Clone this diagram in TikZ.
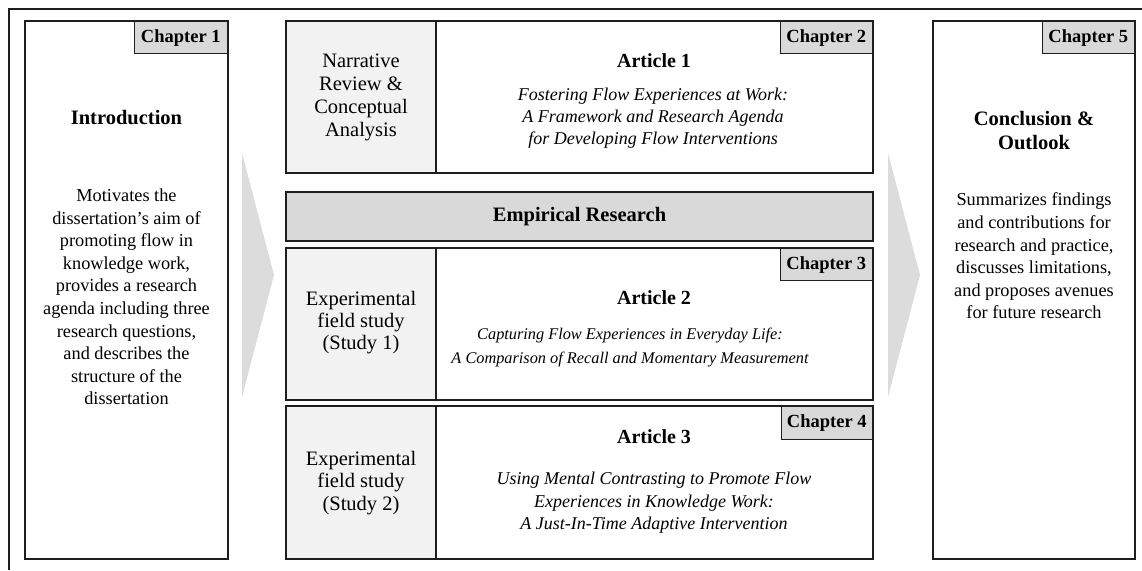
\documentclass[tikz,border=0pt]{standalone}
\usepackage{fontspec}
\setmainfont{Liberation Serif}
\definecolor{tabgray}{HTML}{D9D9D9}
\definecolor{sidegray}{HTML}{F2F2F2}
\definecolor{arrowgray}{HTML}{DCDCDC}
\definecolor{edge}{HTML}{1E1E1E}
\newcommand{\fsz}[2]{\fontsize{#1}{#2}\selectfont}
\begin{document}
\begin{tikzpicture}[x=1pt,y=-1pt,
  box/.style={draw=edge, line width=1.6pt, anchor=north west, inner sep=0pt, outer sep=0pt},
  sidebox/.style={box, fill=sidegray, minimum width=150pt},
  mainbox/.style={box, fill=white, minimum width=437pt},
  tab/.style={draw=edge, line width=1.4pt, fill=tabgray, anchor=north east, inner sep=0pt,
    minimum width=92pt, minimum height=32pt, font=\fsz{18.5}{20}\bfseries},
  heading/.style={inner sep=0pt, align=center, font=\fsz{20.5}{24}\bfseries},
  body/.style={inner sep=0pt, align=center, font=\fsz{18.3}{22.6}},
  side/.style={inner sep=0pt, align=center, font=\fsz{20.5}{23}},
  titles/.style={inner sep=0pt, align=center, font=\fsz{18}{22.3}\itshape},
  chevron/.style={fill=arrowgray, draw=none}
]
\useasboundingbox (0,0) rectangle (1142,570);
\fill[white] (0,0) rectangle (1142,570);

% frame
\draw[line width=2.2pt, edge] (9,570) -- (9,9) -- (1142,9);

% flow chevrons between the columns
\fill[chevron] (242,153) -- (274,275) -- (242,397) -- cycle;
\fill[chevron] (888,153) -- (920,275) -- (888,397) -- cycle;

% chapter 1
\node[box, minimum width=203pt, minimum height=538pt] (intro) at (25,21) {};
\node[tab, minimum width=93pt] (ch1) at (intro.north east) {Chapter 1};
\node[heading] (introT) at (126.5,118) {Introduction};
\node[body] (introB) at (126.5,297) {Motivates the\\dissertation’s aim of\\promoting flow in\\knowledge work,\\provides a research\\agenda including three\\research questions,\\and describes the\\structure of the\\dissertation};

% chapter 2 / article 1
\node[sidebox, minimum height=152pt] (a1side) at (286,21) {};
\node[mainbox, minimum height=152pt] (a1main) at (436,21) {};
\node[tab] (ch2) at (a1main.north east) {Chapter 2};
\node[side] (a1sideT) at (361,97) {Narrative\\Review \&\\Conceptual\\Analysis};
\node[heading, font=\fsz{20}{24}\bfseries] (a1T) at (654,61) {Article 1};
\node[titles] (a1B) at (653,118) {Fostering Flow Experiences at Work:\\A Framework and Research Agenda\\for Developing Flow Interventions};

% empirical research banner
\node[box, fill=tabgray, minimum width=587pt, minimum height=49pt] (emp) at (286,192) {};
\node[heading] (empT) at (579.5,217) {Empirical Research};

% chapter 3 / article 2
\node[sidebox, minimum height=152pt] (a2side) at (286,248) {};
\node[mainbox, minimum height=152pt] (a2main) at (436,248) {};
\node[tab] (ch3) at (a2main.north east) {Chapter 3};
\node[side, font=\fsz{20.5}{22}] (a2sideT) at (361,323) {Experimental\\field study\\(Study 1)};
\node[heading, font=\fsz{20}{24}\bfseries] (a2T) at (654,298) {Article 2};
\node[titles, font=\fsz{16.3}{24}\itshape] (a2B) at (630,348) {Capturing Flow Experiences in Everyday Life:\\A Comparison of Recall and Momentary Measurement};

% chapter 4 / article 3
\node[sidebox, minimum height=153pt] (a3side) at (286,406) {};
\node[mainbox, minimum height=153pt] (a3main) at (436,406) {};
\node[tab, minimum width=91pt, minimum height=33pt] (ch4) at (a3main.north east) {Chapter 4};
\node[side, font=\fsz{20.5}{22.5}] (a3sideT) at (361,483) {Experimental\\field study\\(Study 2)};
\node[heading, font=\fsz{20}{24}\bfseries] (a3T) at (654,437) {Article 3};
\node[titles, font=\fsz{18}{22.5}\itshape] (a3B) at (654,503) {Using Mental Contrasting to Promote Flow\\Experiences in Knowledge Work:\\A Just-In-Time Adaptive Intervention};

% chapter 5
\node[box, minimum width=202pt, minimum height=538pt] (concl) at (933,21) {};
\node[tab] (ch5) at (concl.north east) {Chapter 5};
\node[heading] (conclT) at (1034,131) {Conclusion \&\\Outlook};
\node[body] (conclB) at (1034,256) {Summarizes findings\\and contributions for\\research and practice,\\discusses limitations,\\and proposes avenues\\for future research};
\end{tikzpicture}
\end{document}
